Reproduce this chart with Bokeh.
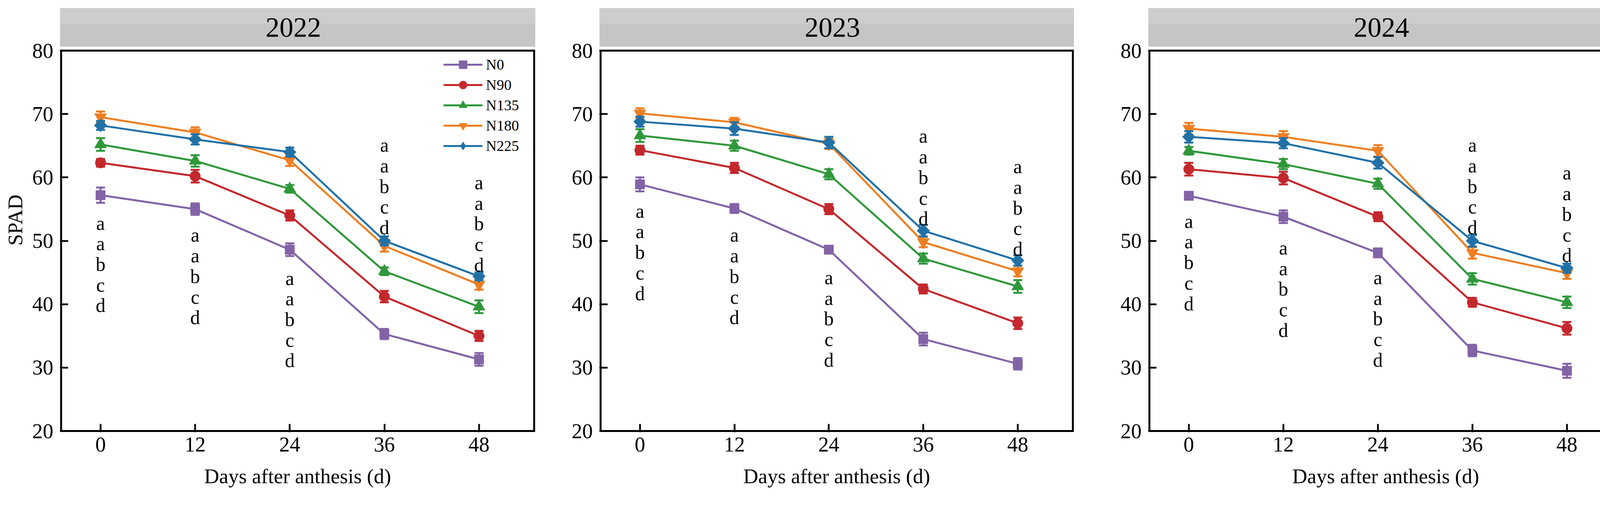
import numpy as np
from bokeh.plotting import figure
from bokeh.layouts import row
from bokeh.models import Range1d, FixedTicker, Legend, LegendItem
from bokeh.embed import file_html
from bokeh.resources import INLINE
from bokeh.core.properties import value

# ---------------- data ----------------
days = [0, 12, 24, 36, 48]
years = ["2022", "2023", "2024"]
treatments = ["N0", "N90", "N135", "N180", "N225"]

spad_2022_N0 = [57.2, 55.0, 48.6, 35.3, 31.3]
spad_2022_N90 = [62.3, 60.2, 54.0, 41.2, 35.0]
spad_2022_N135 = [65.2, 62.6, 58.2, 45.2, 39.6]
spad_2022_N180 = [69.5, 67.1, 62.7, 49.2, 43.1]
spad_2022_N225 = [68.2, 66.0, 64.0, 50.0, 44.4]

spad_2023_N0 = [58.9, 55.1, 48.6, 34.5, 30.6]
spad_2023_N90 = [64.3, 61.5, 55.0, 42.4, 37.0]
spad_2023_N135 = [66.6, 65.0, 60.5, 47.2, 42.8]
spad_2023_N180 = [70.1, 68.7, 65.3, 49.8, 45.2]
spad_2023_N225 = [68.8, 67.7, 65.5, 51.6, 46.9]

spad_2024_N0 = [57.1, 53.8, 48.1, 32.7, 29.5]
spad_2024_N90 = [61.3, 59.9, 53.8, 40.3, 36.2]
spad_2024_N135 = [64.2, 62.1, 59.0, 44.0, 40.3]
spad_2024_N180 = [67.7, 66.4, 64.2, 48.1, 44.9]
spad_2024_N225 = [66.4, 65.4, 62.3, 50.0, 45.7]

err_2022_N0 = [1.2, 0.9, 1.0, 0.8, 1.0]
err_2022_N90 = [0.6, 1.0, 0.8, 0.9, 0.8]
err_2022_N135 = [1.0, 0.9, 0.6, 0.6, 1.0]
err_2022_N180 = [0.9, 0.8, 0.9, 0.9, 0.8]
err_2022_N225 = [0.7, 0.8, 0.7, 0.7, 0.6]

err_2023_N0 = [1.1, 0.7, 0.6, 1.0, 0.9]
err_2023_N90 = [0.7, 0.8, 0.8, 0.7, 0.9]
err_2023_N135 = [1.0, 0.8, 0.8, 0.8, 1.0]
err_2023_N180 = [0.8, 0.7, 0.8, 0.8, 0.8]
err_2023_N225 = [0.8, 1.0, 0.9, 0.9, 0.8]

err_2024_N0 = [0.6, 1.0, 0.7, 0.9, 1.1]
err_2024_N90 = [1.0, 1.0, 0.7, 0.7, 1.0]
err_2024_N135 = [0.6, 0.8, 0.8, 0.9, 0.9]
err_2024_N180 = [0.9, 0.9, 0.9, 0.9, 0.9]
err_2024_N225 = [0.9, 0.8, 0.9, 0.9, 0.7]

# significance letters (same for every date) and SPAD level of the first letter's baseline
sig_letters = ["a", "a", "b", "c", "d"]
letter_top_2022 = [52.8, 50.9, 44.1, 65.1, 59.2]
letter_top_2023 = [54.7, 50.9, 44.2, 66.5, 61.7]
letter_top_2024 = [53.1, 48.9, 44.2, 65.1, 60.7]

y_ticks = [20, 30, 40, 50, 60, 70, 80]

spad = {
    "2022": [spad_2022_N0, spad_2022_N90, spad_2022_N135, spad_2022_N180, spad_2022_N225],
    "2023": [spad_2023_N0, spad_2023_N90, spad_2023_N135, spad_2023_N180, spad_2023_N225],
    "2024": [spad_2024_N0, spad_2024_N90, spad_2024_N135, spad_2024_N180, spad_2024_N225],
}
errs = {
    "2022": [err_2022_N0, err_2022_N90, err_2022_N135, err_2022_N180, err_2022_N225],
    "2023": [err_2023_N0, err_2023_N90, err_2023_N135, err_2023_N180, err_2023_N225],
    "2024": [err_2024_N0, err_2024_N90, err_2024_N135, err_2024_N180, err_2024_N225],
}
letter_tops = {"2022": letter_top_2022, "2023": letter_top_2023, "2024": letter_top_2024}

# ---------------- style / layout ----------------
FONT = "Liberation Serif"
colors = ["#8263a6", "#c3282d", "#2f983b", "#ee7f22", "#2171a7"]
markers = ["square", "circle", "triangle", "inverted_triangle", "square"]
legend_markers = ["square", "circle", "triangle", "inverted_triangle", "diamond"]
msizes = [24, 27, 31, 31, 23]
mangles = [0, 0, 0, 0, np.pi / 4]
LW = 5
LETTER_STEP = 3.25          # SPAD units between stacked letters

XMIN, XMAX, YMIN, YMAX = -5, 55, 20, 80
BOX_H = 973                 # px between y=20 and y=80
box_w = [1211, 1209, 1210]  # px between x=-5 and x=55
PAD = 3                     # px of frame beyond the drawn box
STRIP_GAP = 10              # px between strip bottom and box top
STRIP_H = 99                # px height of the grey strip
LIGHT_H = 40                # px height of the lighter upper band
borders = [(153, 46), (118, 72), (118, 10)]
FIG_H = 1286
TOP_B = 20

sy = BOX_H / (YMAX - YMIN)
y_lo = YMIN - PAD / sy
y_hi = YMAX + (STRIP_GAP + STRIP_H) / sy
frame_h = int(round((y_hi - y_lo) * sy))
BOT_B = FIG_H - TOP_B - frame_h


def make_panel(k, year):
    bl, br = borders[k]
    sx = box_w[k] / (XMAX - XMIN)
    x_lo = XMIN - PAD / sx
    x_hi = XMAX + PAD / sx
    fw = box_w[k] + 2 * PAD
    p = figure(width=bl + fw + br, height=FIG_H, x_range=Range1d(x_lo, x_hi),
               y_range=Range1d(y_lo, y_hi), toolbar_location=None, output_backend="svg",
               min_border_left=bl, min_border_right=br, min_border_top=TOP_B,
               min_border_bottom=BOT_B)
    p.grid.visible = False
    p.outline_line_color = None
    p.xaxis.ticker = FixedTicker(ticks=days)
    p.yaxis.ticker = FixedTicker(ticks=y_ticks)
    for ax in p.axis:
        ax.axis_line_color = None
        ax.major_tick_line_width = 4.5
        ax.major_tick_line_color = "black"
        ax.major_tick_in = 21
        ax.major_tick_out = 0
        ax.minor_tick_line_color = None
        ax.major_label_text_font = FONT
        ax.major_label_text_font_size = "54px"
        ax.major_label_text_color = "black"
        ax.axis_label_text_font = FONT
        ax.axis_label_text_font_size = "53px"
        ax.axis_label_text_font_style = "normal"
        ax.axis_label_text_color = "black"
    p.xaxis.major_label_standoff = 13
    p.yaxis.major_label_standoff = 17
    p.xaxis.axis_label = "Days after anthesis (d)"
    p.xaxis.axis_label_standoff = 31
    if k == 0:
        p.yaxis.axis_label = "SPAD"
        p.yaxis.axis_label_standoff = 12

    # grey facet strip
    strip_bottom = YMAX + STRIP_GAP / sy
    p.quad(left=[x_lo], right=[x_hi], bottom=[strip_bottom], top=[y_hi],
           fill_color="#c5c5c5", line_color=None)
    p.quad(left=[x_lo], right=[x_hi], bottom=[y_hi - LIGHT_H / sy], top=[y_hi],
           fill_color="#cdcdcd", line_color=None)
    p.text(x=[(XMIN + XMAX) / 2], y=[(strip_bottom + y_hi) / 2], text=[year],
           x_offset=-11, text_align="center", text_baseline="middle",
           text_font=value(FONT), text_font_size="71px", text_color="black")

    # plot box
    p.quad(left=[XMIN], right=[XMAX], bottom=[YMIN], top=[YMAX], fill_color=None,
           line_color="black", line_width=5, line_join="miter")

    items = []
    for i, name in enumerate(treatments):
        v = np.array(spad[year][i])
        e = np.array(errs[year][i])
        c = colors[i]
        lr = p.line(days, v, line_color=c, line_width=LW)
        p.segment(x0=days, y0=v - e, x1=days, y1=v + e, line_color=c, line_width=LW)
        p.scatter(days, v + e, marker="dash", size=23, line_color=c, line_width=LW)
        p.scatter(days, v - e, marker="dash", size=23, line_color=c, line_width=LW)
        p.scatter(days, v, marker=markers[i], size=msizes[i], angle=mangles[i],
                  fill_color=c, line_color=c, line_width=1)
        # legend proxy (legend glyphs are drawn unrotated, so use the real diamond shape)
        proxy = p.scatter(x=[np.nan], y=[np.nan], marker=legend_markers[i], size=msizes[i],
                          fill_color=c, line_color=c, line_width=1)
        items.append(LegendItem(label=name, renderers=[lr, proxy]))

    # significance letters
    xs, ys, ts = [], [], []
    for d, top in zip(days, letter_tops[year]):
        for j, t in enumerate(sig_letters):
            xs.append(d)
            ys.append(top - j * LETTER_STEP)
            ts.append(t)
    p.text(x=xs, y=ys, text=ts, text_align="center", text_baseline="alphabetic",
           text_font=value(FONT), text_font_size="50px", text_color="black")

    if k == 0:
        leg = Legend(items=items, location=(982, 706), padding=0, margin=0, spacing=0,
                     glyph_width=100, glyph_height=52, label_height=52, label_standoff=9,
                     label_text_font=FONT, label_text_font_size="38px", label_text_color="black",
                     border_line_color=None, background_fill_alpha=0)
        p.add_layout(leg, "center")
    return p


layout = row(*[make_panel(k, y) for k, y in enumerate(years)])
open("out.html", "w").write(file_html(layout, INLINE))
